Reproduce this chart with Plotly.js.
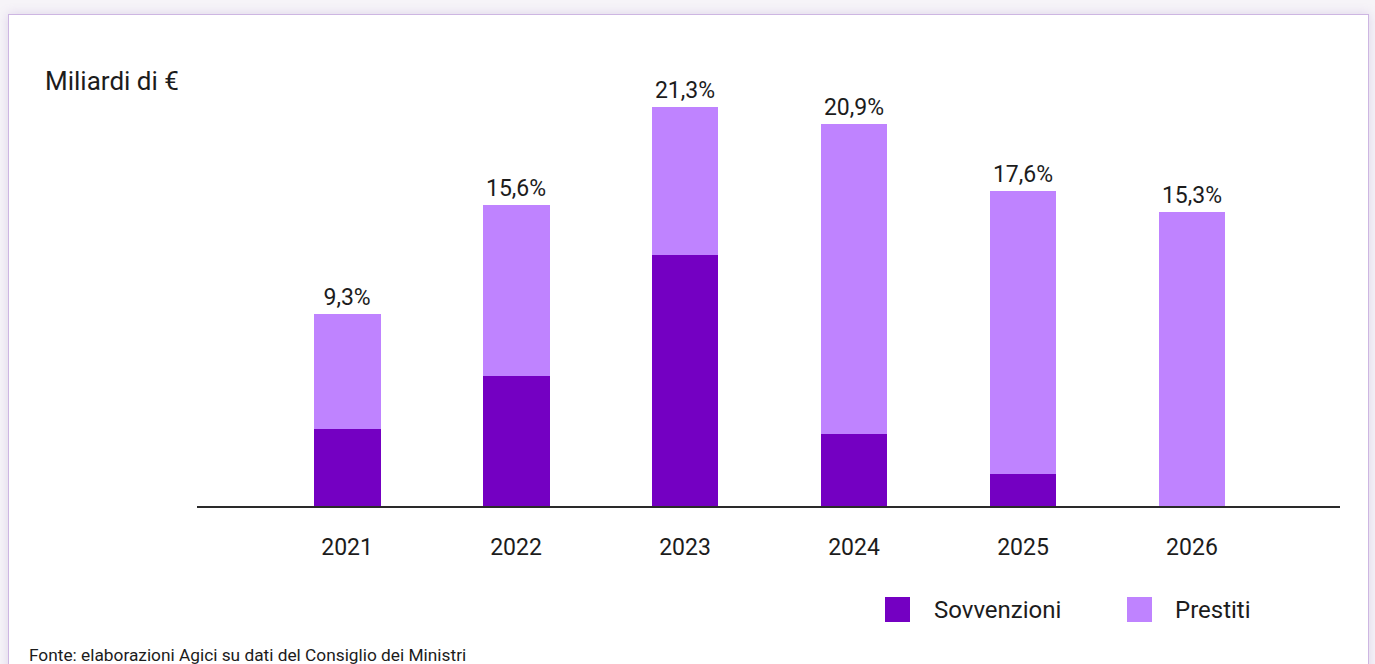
<!DOCTYPE html>
<html>
<head>
<meta charset="utf-8">
<script src="https://cdn.plot.ly/plotly-3.0.1.min.js"></script>
<style>
  html, body { margin: 0; padding: 0; width: 1375px; height: 664px; overflow: hidden; background: #f6f4f8; }
  #card { position: absolute; left: 8px; top: 14px; width: 1359px; height: 700px; background: #ffffff;
          border: 1.5px solid #cdb6e2; box-shadow: 0 0 10px rgba(150,110,190,0.25); }
  #chart { position: absolute; left: 0; top: 0; width: 1375px; height: 664px; }
</style>
</head>
<body>
<div id="card"></div>
<div id="chart"></div>
<script>
// Data (billions of euro) and labels
const years = ["2021", "2022", "2023", "2024", "2025", "2026"];
const sovvenzioni = [4.11, 6.94, 13.40, 3.84, 1.71, 0];
const prestiti = [6.14, 9.13, 7.90, 16.55, 15.11, 15.70];
const totalLabels = ["9,3%", "15,6%", "21,3%", "20,9%", "17,6%", "15,3%"];
const seriesNames = ["Sovvenzioni", "Prestiti"];
const colors = ["#7400c2", "#bf83ff"];

const FONT = "Roboto, 'Open Sans', sans-serif";
const TXT = "#1c1c1c";

// plot area in pixels: x 197..1340, y 60..506
const L = 197, R = 1340, T = 60, B = 506;
const px = x => (x - L) / (R - L);
const py = y => (B - y) / (B - T);

const traces = [
  { type: "bar", x: years.map((_, i) => i), y: sovvenzioni, name: seriesNames[0],
    marker: { color: colors[0] }, showlegend: false, hoverinfo: "x+y+name" },
  { type: "bar", x: years.map((_, i) => i), y: prestiti, name: seriesNames[1],
    marker: { color: colors[1] }, showlegend: false,
    text: totalLabels, textposition: "outside", constraintext: "none", cliponaxis: false,
    textfont: { family: FONT, size: 23, color: TXT } }
];

const legendItems = [
  { sq: [885, 910], tx: 932 },
  { sq: [1127, 1152], tx: 1173 }
];
const shapes = legendItems.map((it, i) => ({
  type: "rect", xref: "paper", yref: "paper",
  x0: px(it.sq[0]), x1: px(it.sq[1]), y0: py(597), y1: py(622),
  fillcolor: colors[i], line: { width: 0 }
}));
const annotations = legendItems.map((it, i) => ({
  xref: "paper", yref: "paper", x: px(it.tx), y: py(609.5), xanchor: "left", yanchor: "middle",
  text: seriesNames[i], showarrow: false, font: { family: FONT, size: 24, color: TXT }
}));
annotations.push({
  xref: "paper", yref: "paper", x: px(43), y: py(81), xanchor: "left", yanchor: "middle",
  text: "Miliardi di €", showarrow: false, font: { family: FONT, size: 26, color: TXT }
});
annotations.push({
  xref: "paper", yref: "paper", x: px(27), y: py(655), xanchor: "left", yanchor: "middle",
  text: "Fonte: elaborazioni Agici su dati del Consiglio dei Ministri", showarrow: false,
  font: { family: FONT, size: 17.3, color: TXT }
});

const layout = {
  width: 1375, height: 664,
  margin: { l: L, r: 1375 - R, t: T, b: 664 - B, pad: 0 },
  paper_bgcolor: "rgba(0,0,0,0)", plot_bgcolor: "rgba(0,0,0,0)",
  barmode: "stack", bargap: 0.604,
  showlegend: false,
  font: { family: FONT, color: TXT },
  xaxis: {
    range: [-0.888, 5.876], tickmode: "array", tickvals: years.map((_, i) => i), ticktext: years,
    showgrid: false, zeroline: false, showline: true, linecolor: "#2a2a2a", linewidth: 1.5,
    ticks: "", ticklabelstandoff: 20, tickfont: { family: FONT, size: 23, color: TXT }, fixedrange: true
  },
  yaxis: { range: [0, (B - T) / 18.73], visible: false, showgrid: false, zeroline: false, fixedrange: true },
  shapes: shapes,
  annotations: annotations
};

Plotly.newPlot("chart", traces, layout, { displayModeBar: false, staticPlot: true });
</script>
</body>
</html>
